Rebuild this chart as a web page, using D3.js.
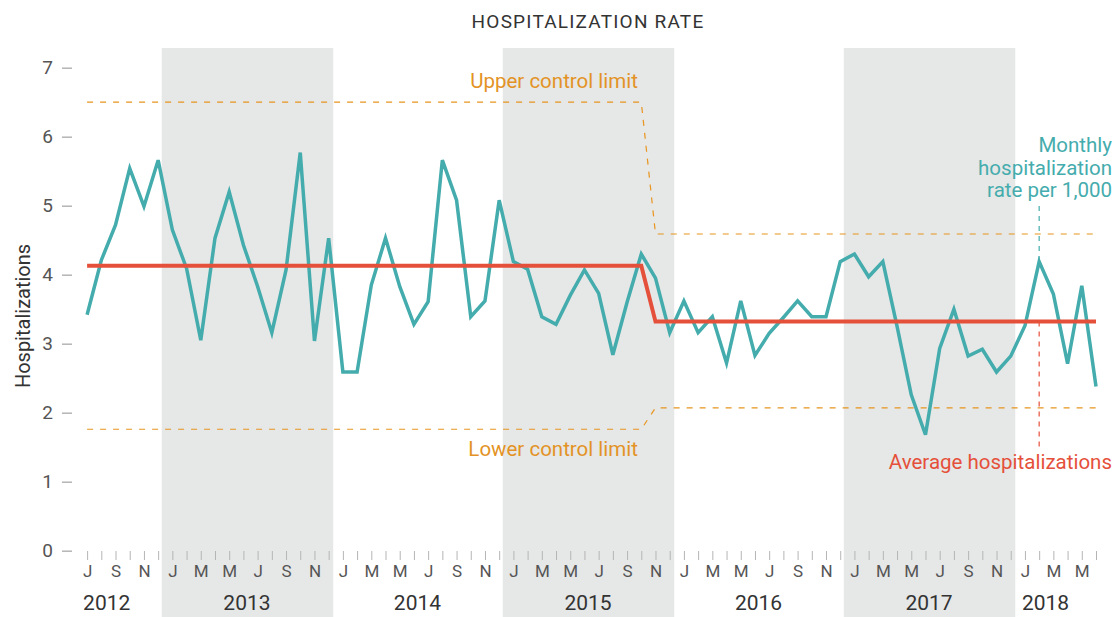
<!DOCTYPE html>
<head>
  <meta charset="utf-8">
  <script src="https://d3js.org/d3.v7.min.js"></script>
  <style>
    body { margin: 0; background: #fff; }
    text { font-family: 'Roboto', 'Open Sans', sans-serif; }
    .y path, .x path { display: none; }
    .y line { stroke: #b5b5b5; stroke-width: 1.5; }
    .x line { stroke: #b5b5b5; stroke-width: 1; }
    .y text { font-size: 19px; fill: #555; }
    .x text { font-size: 17px; fill: #555; }
    .year { font-size: 21px; fill: #333; }
    .note { font-size: 20.5px; }
  </style>
</head>
<body>
  <script>
    // monthly hospitalization rate per 1,000, Jul 2012 - Jun 2018
    var startYear = 2012, startMonth = 6; // July (0-based)
    var rates = [
      3.42, 4.21, 4.72, 5.54, 4.99, 5.66,
      4.65, 4.09, 3.05, 4.53, 5.20, 4.43, 3.83, 3.16, 4.07, 5.77, 3.04, 4.53,
      2.59, 2.59, 3.85, 4.53, 3.83, 3.28, 3.61, 5.66, 5.08, 3.39, 3.62, 5.08,
      4.19, 4.08, 3.39, 3.28, 3.70, 4.07, 3.73, 2.84, 3.60, 4.30, 3.95, 3.16,
      3.62, 3.16, 3.39, 2.72, 3.62, 2.83, 3.15, 3.38, 3.62, 3.39, 3.39, 4.19,
      4.30, 3.97, 4.19, 3.25, 2.26, 1.68, 2.93, 3.50, 2.82, 2.92, 2.59, 2.82,
      3.26, 4.19, 3.72, 2.71, 3.84, 2.38
    ];

    // process phases: index of first month in each phase
    var phaseStart = [0, 40];
    var avgValues = [4.13, 3.32];
    var uclValues = [6.5, 4.59];
    var lclValues = [1.76, 2.07];

    var monthLetters = ["J", "F", "M", "A", "M", "J", "J", "A", "S", "O", "N", "D"];
    var shadedYears = [2013, 2015, 2017];
    var yTicks = [0, 1, 2, 3, 4, 5, 6, 7];
    var noteLines = ["Monthly", "hospitalization", "rate per 1,000"];

    var width = 1116, height = 617;

    var svg = d3.select("body").append("svg")
        .attr("width", width)
        .attr("height", height);

    var x = d3.scaleLinear()
        .domain([0, rates.length - 1])
        .range([87.1, 1096]);

    var y = d3.scaleLinear()
        .domain([0, 7])
        .range([550.7, 67.7]);

    var step = x(1) - x(0);

    function phaseOf(i) {
      var p = 0;
      phaseStart.forEach(function(s, k) { if (i >= s) p = k; });
      return p;
    }

    function monthIndex(year, m) {
      return (year - startYear) * 12 + m - startMonth;
    }

    // shaded years
    svg.selectAll(".band")
        .data(shadedYears)
      .enter().append("rect")
        .attr("class", "band")
        .attr("x", function(d) { return x(monthIndex(d, 0)) - 0.75 * step; })
        .attr("y", 48)
        .attr("width", 12 * step + 1)
        .attr("height", height - 48)
        .attr("fill", "#e6e7e7");

    // title
    svg.append("text")
        .attr("x", 588)
        .attr("y", 28)
        .attr("text-anchor", "middle")
        .attr("font-size", "19px")
        .attr("fill", "#333")
        .attr("letter-spacing", "1.2px")
        .text("HOSPITALIZATION RATE");

    // y axis
    svg.append("g")
        .attr("class", "y axis")
        .attr("transform", "translate(72,0)")
        .call(d3.axisLeft(y).tickValues(yTicks).tickFormat(d3.format("d"))
          .tickSize(10).tickPadding(9));

    svg.append("text")
        .attr("transform", "translate(30,316) rotate(-90)")
        .attr("text-anchor", "middle")
        .attr("font-size", "20px")
        .attr("fill", "#333")
        .text("Hospitalizations");

    // x axis: monthly ticks
    var xAxis = svg.append("g")
        .attr("class", "x axis")
        .attr("transform", "translate(0,551)")
        .call(d3.axisBottom(x)
          .tickValues(d3.range(rates.length))
          .tickSize(9)
          .tickPadding(3)
          .tickFormat(function(i) {
            return i % 2 === 0 ? monthLetters[(startMonth + i) % 12] : "";
          }));

    xAxis.selectAll("text").attr("dy", null).attr("y", 26);

    // year labels
    var years = d3.range(startYear, startYear + 7);
    svg.selectAll(".year")
        .data(years)
      .enter().append("text")
        .attr("class", "year")
        .attr("y", 610)
        .attr("text-anchor", function(d) {
          return (d === startYear || d === 2018) ? "start" : "middle";
        })
        .attr("x", function(d) {
          if (d === startYear) return x(0) - 4;
          if (d === 2018) return x(monthIndex(d, 0)) - 3;
          return x(monthIndex(d, 0)) - 0.75 * step + 6 * step;
        })
        .text(function(d) { return d; });

    // control limits
    var idx = d3.range(rates.length);
    var limitLine = function(values) {
      return d3.line()
        .x(function(i) { return x(i); })
        .y(function(i) { return y(values[phaseOf(i)]); });
    };

    [uclValues, lclValues].forEach(function(vals) {
      svg.append("path")
          .datum(idx)
          .attr("d", limitLine(vals))
          .attr("fill", "none")
          .attr("stroke", "#e8951e")
          .attr("stroke-width", 1.2)
          .attr("stroke-dasharray", "6,7");
    });

    // annotation leader lines at Feb 2018
    var noteIdx = monthIndex(2018, 1);
    svg.append("line")
        .attr("x1", x(noteIdx)).attr("x2", x(noteIdx))
        .attr("y1", 206).attr("y2", y(rates[noteIdx]))
        .attr("stroke", "#45acad")
        .attr("stroke-width", 1.2)
        .attr("stroke-dasharray", "5,5");

    svg.append("line")
        .attr("x1", x(noteIdx)).attr("x2", x(noteIdx))
        .attr("y1", y(avgValues[1])).attr("y2", 448)
        .attr("stroke", "#e5503a")
        .attr("stroke-width", 1.2)
        .attr("stroke-dasharray", "5,5");

    // monthly rate
    svg.append("path")
        .datum(rates)
        .attr("d", d3.line()
          .x(function(d, i) { return x(i); })
          .y(function(d) { return y(d); }))
        .attr("fill", "none")
        .attr("stroke", "#45acad")
        .attr("stroke-width", 3.5)
        .attr("stroke-linejoin", "miter");

    // average
    svg.append("path")
        .datum(idx)
        .attr("d", limitLine(avgValues))
        .attr("fill", "none")
        .attr("stroke", "#e5503a")
        .attr("stroke-width", 4);

    // labels
    svg.append("text")
        .attr("class", "note")
        .attr("x", 638).attr("y", 88)
        .attr("text-anchor", "end")
        .attr("fill", "#e39325")
        .text("Upper control limit");

    svg.append("text")
        .attr("class", "note")
        .attr("x", 638).attr("y", 456)
        .attr("text-anchor", "end")
        .attr("fill", "#e39325")
        .text("Lower control limit");

    svg.selectAll(".rate-note")
        .data(noteLines)
      .enter().append("text")
        .attr("class", "note rate-note")
        .attr("x", 1112)
        .attr("y", function(d, k) { return 152 + k * 22.5; })
        .attr("text-anchor", "end")
        .attr("fill", "#45acad")
        .text(function(d) { return d; });

    svg.append("text")
        .attr("class", "note")
        .attr("x", 1112).attr("y", 469)
        .attr("text-anchor", "end")
        .attr("fill", "#e5503a")
        .text("Average hospitalizations");
  </script>
</body>
